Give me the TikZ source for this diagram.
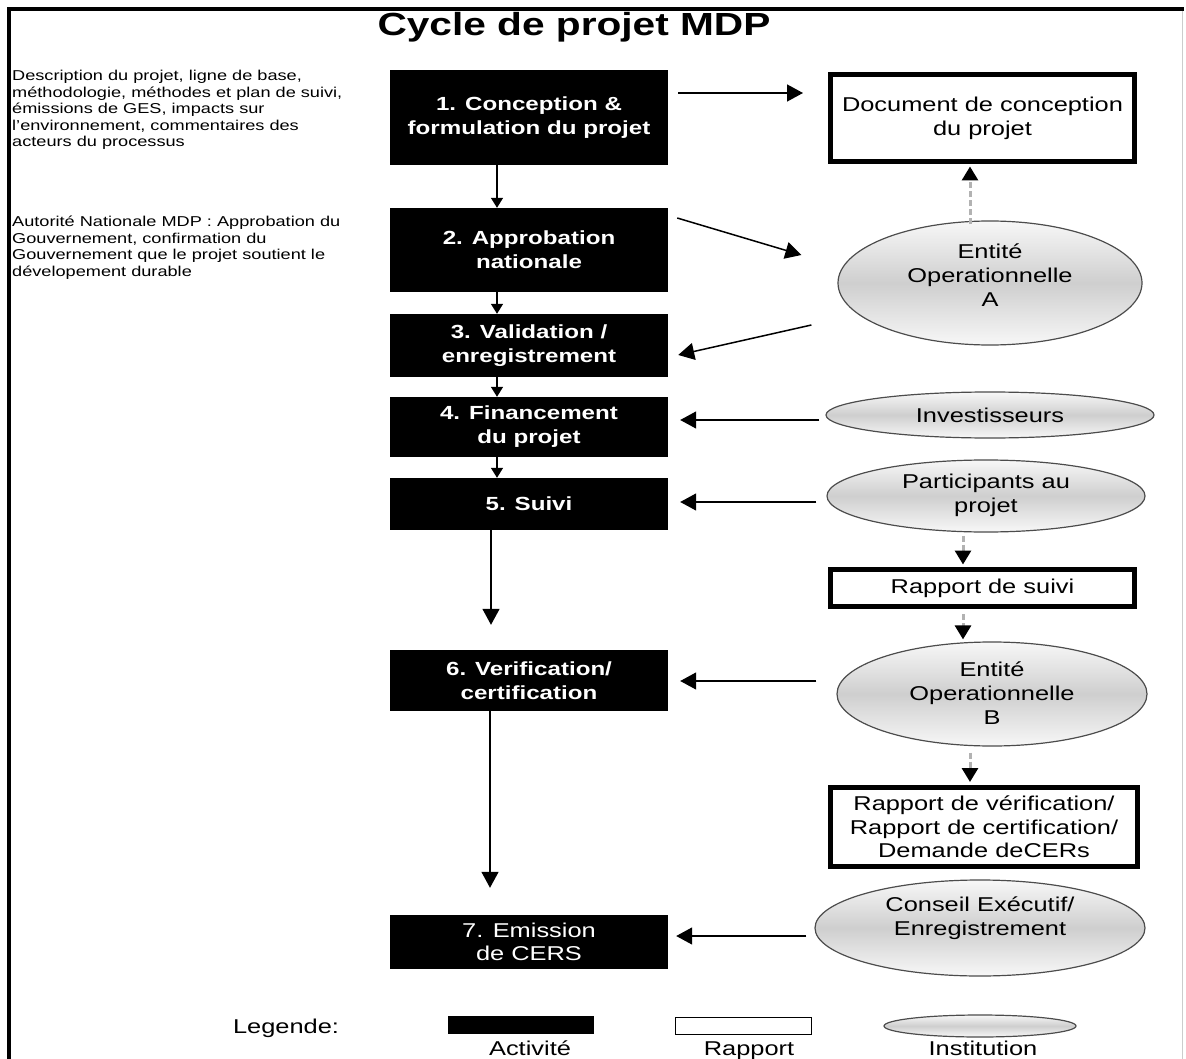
\documentclass[tikz,border=0pt]{standalone}
\usepackage{fontspec}
\setmainfont{Liberation Sans}[FakeStretch=1.27]
\usetikzlibrary{arrows.meta,shapes.geometric,calc}
\begin{document}
\begin{tikzpicture}[x=1pt,y=-1pt,
  act/.style={fill=black, text=white, font=\fontsize{19}{24}\selectfont\bfseries, align=center, inner sep=0pt, minimum width=278pt},
  rep/.style={draw=black, line width=5pt, fill=white, font=\fontsize{20}{24}\selectfont, align=center, inner sep=0pt},
  inst/.style={ellipse, draw=black!70, line width=1.2pt, top color=gray!6, bottom color=gray!6, middle color=gray!38, inner sep=0pt},
  insttext/.style={font=\fontsize{20}{24}\selectfont, align=center, inner sep=0pt},
  arr/.style={-{Triangle[length=16pt,width=17pt]}, line width=1.5pt},
  sarr/.style={-{Triangle[length=10pt,width=12pt]}, line width=1.5pt},
  darr/.style={-{Triangle[length=14pt,width=16pt,color=black]}, draw=gray!60, line width=3pt, dash pattern=on 6pt off 3pt},
  side/.style={anchor=north west, align=left, font=\fontsize{14.3}{16.5}\selectfont, inner sep=0pt}
]
\useasboundingbox (0,0) rectangle (1186,1059);
% frame
\draw[line width=4pt] (9,1059) -- (9,9) -- (1184,9);
\draw[gray!40, line width=1pt] (1182,11) -- (1182,1059);
% title
\node[font=\fontsize{32}{36}\selectfont\bfseries] (title) at (574,27) {Cycle de projet MDP};
% side texts
\node[side] (t1) at (12,70) {Description du projet, ligne de base,\\méthodologie, méthodes et plan de suivi,\\émissions de GES, impacts sur\\l'environnement, commentaires des\\acteurs du processus};
\node[side] (t2) at (12,216) {Autorité Nationale MDP : Approbation du\\Gouvernement, confirmation du\\Gouvernement que le projet soutient le\\dévelopement durable};
% activities
\node[act, minimum height=95pt] (b1) at (529,117.5) {1. Conception \&\\formulation du projet};
\node[act, minimum height=84pt] (b2) at (529,250) {2. Approbation\\nationale};
\node[act, minimum height=63pt] (b3) at (529,345.5) {3. Validation /\\enregistrement};
\node[act, minimum height=60pt] (b4) at (529,427) {4. Financement\\du projet};
\node[act, minimum height=52pt] (b5) at (529,504) {5. Suivi};
\node[act, minimum height=61pt] (b6) at (529,680.5) {6. Verification/\\certification};
\node[act, minimum height=54pt, font=\fontsize{20}{23}\selectfont] (b7) at (529,942) {7. Emission\\de CERS};
% reports
\node[rep, minimum width=304pt, minimum height=87pt] (doc) at (982.5,118) {Document de conception\\du projet};
\node[rep, minimum width=304pt, minimum height=37pt] (rs) at (982.5,588) {Rapport de suivi};
\node[rep, minimum width=307pt, minimum height=79pt, font=\fontsize{20}{23.5}\selectfont] (rv) at (984,827) {Rapport de vérification/\\Rapport de certification/\\Demande deCERs};
% institutions
\node[inst, minimum width=304pt, minimum height=124pt] (eA) at (990,283) {};
\node[insttext] (eAt) at (990,275) {Entité\\Operationnelle\\A};
\node[inst, minimum width=328pt, minimum height=46pt] (inv) at (990,415) {};
\node[insttext] (invt) at (990,415) {Investisseurs};
\node[inst, minimum width=318pt, minimum height=72pt] (part) at (986,496) {};
\node[insttext] (partt) at (986,495) {Participants au\\projet};
\node[inst, minimum width=310pt, minimum height=104pt] (eB) at (992,694) {};
\node[insttext] (eBt) at (992,693.5) {Entité\\Operationnelle\\B};
\node[inst, minimum width=330pt, minimum height=96pt] (ce) at (980,928) {};
\node[insttext] (cet) at (980,918) {Conseil Exécutif/\\Enregistrement};
% vertical flow
\draw[sarr] (b1.south -| 497,0) -- (b2.north -| 497,0);
\draw[sarr] (b2.south -| 497,0) -- (b3.north -| 497,0);
\draw[sarr] (b3.south -| 497,0) -- (b4.north -| 497,0);
\draw[sarr] (b4.south -| 497,0) -- (b5.north -| 497,0);
\draw[arr, shorten >=25pt] (b5.south -| 491,0) -- (b6.north -| 491,0);
\draw[arr, shorten >=27pt] (b6.south -| 490,0) -- (b7.north -| 490,0);
% horizontal / diagonal
\draw[arr] ([xshift=10pt]b1.east |- 0,93) -- ([xshift=-25pt]doc.west |- 0,93);
\draw[arr] ([xshift=9pt]b2.east |- 0,218) -- ([xshift=-36pt]eA.west |- 0,255);
\draw[arr] ([xshift=-26pt]eA.west |- 0,325) -- ([xshift=10pt]b3.east |- 0,355);
\draw[arr] ([xshift=-6pt]inv.west |- 0,420) -- ([xshift=12pt]b4.east |- 0,420);
\draw[arr] ([xshift=-10pt]part.west |- 0,502) -- ([xshift=12pt]b5.east |- 0,502);
\draw[arr] ([xshift=-20pt]eB.west |- 0,681) -- ([xshift=12pt]b6.east |- 0,681);
\draw[arr] ([xshift=-8pt]ce.west |- 0,936) -- ([xshift=8pt]b7.east |- 0,936);
% dashed
\draw[darr, shorten <=-4pt, shorten >=2.5pt] (eA.north -| 970,0) -- (doc.south -| 970,0);
\draw[darr, shorten <=3pt, shorten >=2.5pt] (part.south -| 963,0) -- (rs.north -| 963,0);
\draw[darr, shorten <=5pt, shorten >=2pt] (rs.south -| 963,0) -- (eB.north -| 963,0);
\draw[darr, shorten <=6pt, shorten >=3pt] (eB.south -| 970,0) -- (rv.north -| 970,0);
% legend
\node[font=\fontsize{20}{24}\selectfont] (lg) at (286,1028) {Legende:};
\node[fill=black, minimum width=146pt, minimum height=18pt, inner sep=0pt] (la) at (521,1025) {};
\node[draw=black, line width=1.2pt, fill=white, minimum width=136pt, minimum height=17pt, inner sep=0pt] (lr) at (743.5,1026) {};
\node[inst, minimum width=192pt, minimum height=22pt] (li) at (980,1026) {};
\node[anchor=base, font=\fontsize{20}{24}\selectfont] (lat) at (530,1055) {Activité};
\node[anchor=base, font=\fontsize{20}{24}\selectfont] (lrt) at (749,1055) {Rapport};
\node[anchor=base, font=\fontsize{20}{24}\selectfont] (lit) at (983,1055) {Institution};
\end{tikzpicture}
\end{document}
